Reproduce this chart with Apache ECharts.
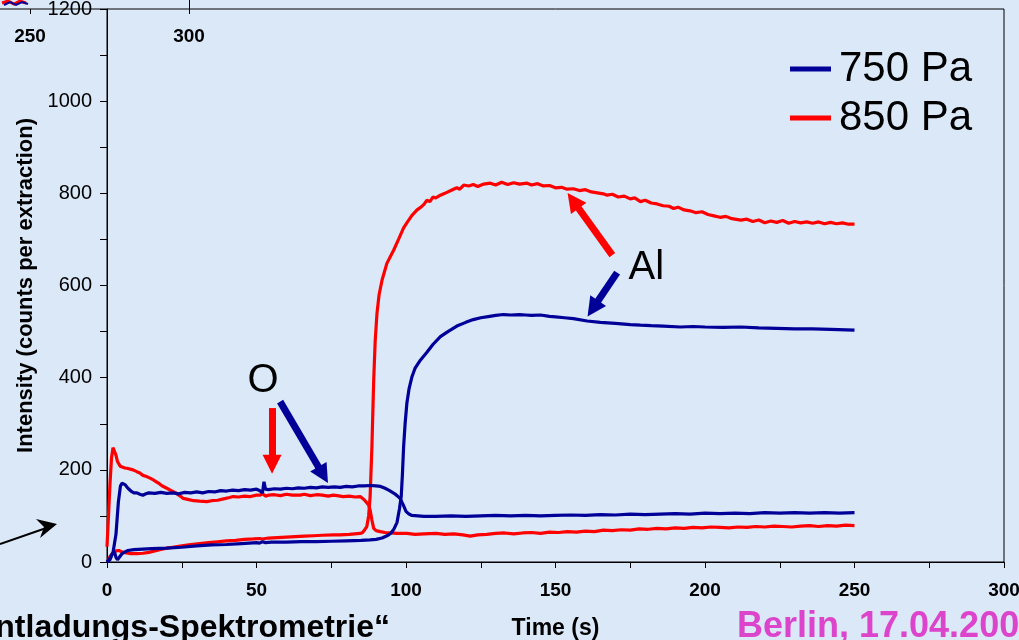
<!DOCTYPE html>
<html>
<head>
<meta charset="utf-8">
<script src="https://cdn.jsdelivr.net/npm/echarts@6/dist/echarts.min.js"></script>
<style>
  html, body { margin: 0; padding: 0; background: #dae8f8; }
  #chart { width: 1019px; height: 640px; }
</style>
</head>
<body>
<div id="chart"></div>
<script>
// Time axis ticks (s) and intensity ticks (counts per extraction)
const timeTicks = [0, 50, 100, 150, 200, 250, 300];
const intensityTicks = [0, 200, 400, 600, 800, 1000, 1200];

// 750 Pa, oxygen signal [time s, intensity]
const o750 = [[0,0],[1,8],[2,20],[3,60],[3.8,130],[4.5,165],[5,171],[6,168],[7,160],[8,154],[9,150],[10,150],[11,147],[12,145],[13,148],[14,150],[16,149],[18,151],[20,149],[22,150],[24,148],[26,151],[28,150],[30,152],[32,150],[34,153],[36,152],[38,155],[40,154],[42,156],[44,155],[46,157],[48,156],[50,158],[51,155],[52,150],[52.5,174],[53,158],[54,157],[56,159],[58,158],[60,160],[62,159],[64,161],[66,160],[68,162],[70,161],[72,163],[74,162],[76,163],[78,162],[80,164],[82,163],[84,165],[86,165],[88,166],[90,165],[91.5,164],[93,160],[94.5,155],[96,149],[97,144],[98,138],[99,125],[100,110],[101,104],[102,101],[104,100],[106,99],[110,99],[115,100],[120,99],[125,100],[130,101],[135,100],[140,101],[145,100],[150,101],[155,102],[160,101],[165,103],[170,102],[175,104],[180,103],[185,104],[190,105],[195,104],[200,106],[205,105],[210,106],[215,105],[220,107],[225,106],[230,107],[235,106],[240,107],[245,106],[250,107]];

// 750 Pa, aluminium signal
const al750 = [[0,0],[1,5],[1.8,18],[2.5,22],[3,10],[3.5,5],[4,8],[5,18],[6,22],[7,25],[9,27],[12,28],[15,29],[20,30],[25,32],[30,35],[35,37],[40,38],[45,40],[50,42],[51,41],[52,44],[53,42],[55,43],[60,43],[65,44],[70,44],[75,45],[80,46],[85,47],[88,48],[90,49],[92,52],[94,58],[95,63],[96,72],[97,86],[97.8,115],[98.4,142],[98.8,190],[99.2,250],[99.7,300],[100.3,345],[101,375],[102,402],[103,420],[104.8,438],[107,455],[109,472],[111.5,489],[114,500],[117,512],[120,520],[122.5,526],[125,530],[128,533],[130,535],[132.6,537],[135,536],[138,537],[140,536],[142,535],[145,536],[148,533],[150,532],[153,530],[156,528],[160.6,523],[165,520],[170,518],[175,515],[178.4,514],[182,513],[186,512],[191.8,510],[196,511],[200,510],[206,509],[212,510],[218,508],[224,507],[230,506],[236,506],[242,505],[250,503]];

// 850 Pa, oxygen signal
const o850 = [[0,33],[0.5,100],[1,170],[1.5,225],[2,248],[2.5,245],[3,232],[3.5,218],[4.4,208],[5,206],[6,204],[7,203],[8.7,200],[10,196],[11,193],[12,188],[13,186],[14.4,182],[15.5,178],[16.5,174],[17.5,170],[18.5,165],[20,160],[21.5,155],[23,150],[24.5,143],[25.5,138],[27,136],[29,133],[31,132],[33.4,131],[35,133],[37,134],[39,137],[41,140],[42.2,142],[44,141],[46,143],[48,142],[50,145],[51.2,145],[52,148],[53,143],[54,145],[56,146],[58,144],[60,147],[62,145],[64.6,145],[66,147],[68,144],[70,146],[72,145],[74,143],[75.7,145],[77,144],[79,142],[81,143],[83,141],[84.7,142],[85.5,138],[86.3,133],[86.9,131],[87.5,124],[88,113],[88.6,91],[89.2,73],[90,68],[91.4,66],[93,64],[95,63],[97,62],[100.3,62],[103,60],[106,61],[110,62],[113,60],[116,61],[119,59],[121.5,56],[124,59],[127,60],[130,62],[133,63],[136,61],[139,63],[142,64],[145,62],[148,65],[151,64],[154,66],[157,65],[160,67],[163,66],[166,69],[169,68],[172,70],[175,69],[178,72],[181,71],[184,73],[187,72],[190,74],[193,73],[196,75],[199,74],[202,76],[205,75],[208,74],[211,76],[214,75],[217,77],[220,76],[223,78],[226,77],[229,76],[232,78],[235,79],[238,77],[241,79],[244,78],[247,80],[250,79]];

// 850 Pa, aluminium signal
const al850 = [[0,0],[0.5,5],[1,12],[2,20],[3,24],[4,25],[5,22],[6,20],[7,19],[8,18],[10,18],[12,19],[14,21],[16,24],[18,27],[20,30],[22,32],[25,35],[28,38],[31,40],[34,42],[37,44],[40,46],[43,47],[46,49],[49,50],[51,51],[52,50],[54,52],[57,53],[60,54],[63,55],[66,56],[69,57],[72,58],[75.7,59],[78,59],[81,60],[84.7,62],[85.5,64],[86.2,70],[86.9,77],[87.5,100],[88,142],[88.6,250],[89.2,395],[89.7,480],[90.3,540],[91,580],[92,612],[93.6,648],[95.9,677],[97.5,700],[99.2,725],[100.5,738],[102,752],[103.7,764],[105,770],[106,776],[107,785],[108,782],[109,792],[110,790],[111.5,796],[113,800],[115,806],[117,812],[118,809],[119.3,818],[121,816],[122.5,819],[124,815],[126,820],[128.2,822],[130,818],[132,824],[134,819],[136,823],[138,820],[140.5,822],[142,818],[144,821],[146,816],[148,817],[150,812],[152,813],[153.9,809],[156,810],[158,806],[160,808],[162,803],[164,801],[166,799],[167.3,796],[169,798],[171,792],[173,794],[175,788],[176.5,790],[178.4,782],[180,785],[182,779],[184,777],[186,773],[188,772],[189.5,767],[191,770],[193,764],[195,762],[197,758],[199,760],[201,754],[203,751],[205,748],[207,750],[209,745],[211,743],[212,742],[214,744],[216,739],[218,742],[220,736],[222,740],[224,737],[226,741],[228,735],[230,739],[232,736],[234,738],[236,735],[238,738],[240,734],[242,737],[244,734],[246,736],[248,733],[250,733]];

// Annotation arrows: [tail, head] in data coordinates
const arrowO850 = [[55.2, 334], [55.2, 212]];
const arrowO750 = [[57.9, 348], [72.3, 189]];
const arrowAl850 = [[169.0, 666], [155.9, 784]];
const arrowAl750 = [[170.6, 628], [162.5, 550]];

// Element labels and their anchor points
const labelO = ['O', [52.2, 393]];
const labelAl = ['Al', [180.4, 638]];

const BLUE = '#000099';
const RED = '#ff0000';
const FONT = '"Liberation Sans", Arial, sans-serif';

function arrow(pair, color) {
  return [
    { coord: pair[0], lineStyle: { color: color, width: 7, type: 'solid' } },
    { coord: pair[1] }
  ];
}

function textMark(item) {
  return {
    name: item[0], coord: item[1],
    symbol: 'circle', symbolSize: 1,
    itemStyle: { color: 'rgba(0,0,0,0)' },
    label: { show: true, position: 'inside', formatter: '{b}', color: '#000', fontSize: 40, fontFamily: FONT }
  };
}

const plainNumber = function (v) { return String(v); };

const chart = echarts.init(document.getElementById('chart'), null, { renderer: 'canvas' });

chart.setOption({
  backgroundColor: '#dae8f8',
  animation: false,
  textStyle: { fontFamily: FONT, color: '#000' },
  grid: { left: 107, right: 15, top: 9, bottom: 78, outerBoundsMode: 'none', containLabel: false,
    show: true, borderColor: '#000', borderWidth: 1, backgroundColor: 'transparent' },
  legend: {
    data: ['750 Pa', '850 Pa'],
    orient: 'vertical', left: 790, top: 48, itemGap: 7, padding: 0,
    icon: 'rect', itemWidth: 41, itemHeight: 5,
    textStyle: { fontSize: 42, color: '#000', fontFamily: FONT, padding: [0, 0, 0, 3] },
    selectedMode: false
  },
  xAxis: {
    type: 'value', min: timeTicks[0], max: timeTicks[timeTicks.length - 1], interval: 50,
    axisLine: { lineStyle: { color: '#000', width: 1 } },
    axisTick: { show: true, length: 6, lineStyle: { color: '#000' } },
    minorTick: { show: true, splitNumber: 2, length: 6, lineStyle: { color: '#000' } },
    splitLine: { show: false },
    axisLabel: { fontSize: 19, fontWeight: 'bold', color: '#000', margin: 19, fontFamily: FONT, formatter: plainNumber },
    name: 'Time (s)', nameLocation: 'middle', nameGap: 55,
    nameTextStyle: { fontSize: 23, fontWeight: 'bold', color: '#000', fontFamily: FONT }
  },
  yAxis: {
    type: 'value', min: intensityTicks[0], max: intensityTicks[intensityTicks.length - 1], interval: 200,
    axisLine: { show: true, lineStyle: { color: '#000', width: 1 } },
    axisTick: { show: true, length: 7, lineStyle: { color: '#000' } },
    minorTick: { show: true, splitNumber: 2, length: 7, lineStyle: { color: '#000' } },
    splitLine: { show: false },
    axisLabel: { fontSize: 20, color: '#000', margin: 15, fontFamily: FONT, formatter: plainNumber },
    name: 'Intensity (counts per extraction)', nameLocation: 'middle', nameRotate: 90, nameGap: 66,
    nameTextStyle: { fontSize: 22, fontWeight: 'bold', color: '#000', fontFamily: FONT }
  },
  series: [
    {
      name: '850 Pa', type: 'line', data: o850, showSymbol: false, symbol: 'none',
      lineStyle: { color: RED, width: 3.2 }, itemStyle: { color: RED },
      markLine: { silent: true, symbol: ['none', 'triangle'], symbolSize: 19, label: { show: false },
        data: [arrow(arrowO850, RED)] }
    },
    {
      name: '850 Pa', type: 'line', data: al850, showSymbol: false, symbol: 'none',
      lineStyle: { color: RED, width: 3.2 }, itemStyle: { color: RED },
      markLine: { silent: true, symbol: ['none', 'triangle'], symbolSize: 19, label: { show: false },
        data: [arrow(arrowAl850, RED)] }
    },
    {
      name: '750 Pa', type: 'line', data: o750, showSymbol: false, symbol: 'none',
      lineStyle: { color: BLUE, width: 3.2 }, itemStyle: { color: BLUE },
      markLine: { silent: true, symbol: ['none', 'triangle'], symbolSize: 19, label: { show: false },
        data: [arrow(arrowO750, BLUE)] },
      markPoint: { silent: true, data: [textMark(labelO)] }
    },
    {
      name: '750 Pa', type: 'line', data: al750, showSymbol: false, symbol: 'none',
      lineStyle: { color: BLUE, width: 3.2 }, itemStyle: { color: BLUE },
      markLine: { silent: true, symbol: ['none', 'triangle'], symbolSize: 19, label: { show: false },
        data: [arrow(arrowAl750, BLUE)] },
      markPoint: { silent: true, data: [textMark(labelAl)] }
    }
  ],
  graphic: [
    // edge of the neighbouring plot above
    { type: 'line', shape: { x1: 0, y1: 9, x2: 107, y2: 9 }, style: { stroke: '#000', lineWidth: 1 }, silent: true },
    { type: 'line', shape: { x1: 30.5, y1: 9, x2: 30.5, y2: 14 }, style: { stroke: '#000', lineWidth: 1 }, silent: true },
    { type: 'line', shape: { x1: 189.5, y1: 0, x2: 189.5, y2: 14 }, style: { stroke: '#000', lineWidth: 1 }, silent: true },
    { type: 'polyline', shape: { points: [[2, 3], [8, 1], [14, 4], [20, 1], [26, 3]] }, style: { stroke: RED, lineWidth: 3, fill: null }, silent: true },
    { type: 'polyline', shape: { points: [[4, 5], [10, 2], [16, 5], [22, 2], [28, 4]] }, style: { stroke: BLUE, lineWidth: 2, fill: null }, silent: true },
    { type: 'text', x: 30, y: 37, style: { text: '250', fontSize: 19, fontWeight: 'bold', fontFamily: FONT, fill: '#000', align: 'center', verticalAlign: 'middle' }, silent: true },
    { type: 'text', x: 189, y: 37, style: { text: '300', fontSize: 19, fontWeight: 'bold', fontFamily: FONT, fill: '#000', align: 'center', verticalAlign: 'middle' }, silent: true },
    // pointer arrow at the lower left
    { type: 'line', shape: { x1: 0, y1: 544, x2: 52, y2: 526 }, style: { stroke: '#000', lineWidth: 2 }, silent: true },
    { type: 'polygon', shape: { points: [[57, 524], [36, 519], [44, 527], [40, 538]] }, style: { fill: '#000' }, silent: true },
    // slide footer
    { type: 'text', x: 390, y: 628, style: { text: 'ntladungs-Spektrometrie\u201C', fontSize: 32, fontWeight: 'bold', fontFamily: FONT, fill: '#000', align: 'right', verticalAlign: 'middle' }, silent: true },
    { type: 'text', x: 737, y: 627, style: { text: 'Berlin, 17.04.200', fontSize: 36, fontWeight: 'bold', fontFamily: FONT, fill: '#dd44cc', align: 'left', verticalAlign: 'middle' }, silent: true }
  ]
});
</script>
</body>
</html>
